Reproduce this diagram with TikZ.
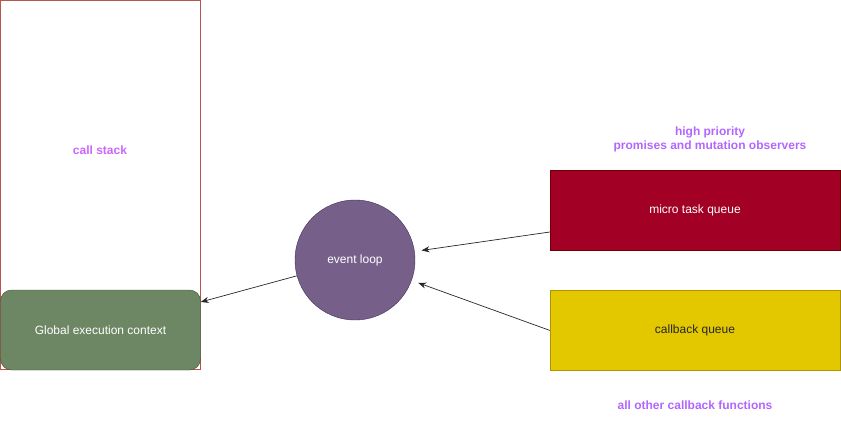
\documentclass[tikz,border=0pt]{standalone}
\usepackage{fontspec}
\setmainfont{Liberation Sans}
\usepackage{tikz}
\usepackage{xcolor}
\usetikzlibrary{positioning, arrows.meta, shapes, calc}
\definecolor{cStack}{HTML}{B85450}
\definecolor{cGlobal}{HTML}{6D8764}
\definecolor{cGlobalLine}{HTML}{3A5431}
\definecolor{cLoop}{HTML}{76608A}
\definecolor{cLoopLine}{HTML}{432D57}
\definecolor{cMicro}{HTML}{A20025}
\definecolor{cMicroLine}{HTML}{6F0000}
\definecolor{cCallback}{HTML}{E3C800}
\definecolor{cCallbackLine}{HTML}{B09500}
\definecolor{cNote}{HTML}{B266FF}
\definecolor{cStackText}{HTML}{CC66FF}
\newcommand{\twelve}{\fontsize{12}{14.5}\selectfont}

\begin{document}
\begin{tikzpicture}[
      x=1pt, y=-1pt,
      every node/.style={font=\twelve},
      box/.style={draw, minimum width=290pt, minimum height=80pt, inner sep=0pt, font=\twelve, align=center},
      microbox/.style={box, fill=cMicro, draw=cMicroLine, text=white},
      cbbox/.style={box, fill=cCallback, draw=cCallbackLine, text=black!85},
      note/.style={font=\twelve\bfseries, text=cNote, align=center},
      arrow/.style={-{Stealth[length=8pt, width=6pt]}, line width=0.7pt, black!85}
    ]
      \useasboundingbox (0,0) rectangle (841,421);

      \node[draw=cStack, line width=0.8pt, minimum width=200pt, minimum height=369pt, inner sep=0pt] (stack) at (100.5,185) {};
      \node[note, text=cStackText] (stacklbl) at (100,150) {call stack};
      \node[draw=cGlobalLine, fill=cGlobal, text=white, rounded corners=11pt, minimum width=200pt, minimum height=80pt, inner sep=0pt] (gec) at (100.5,330) {Global execution context};

      \node[circle, draw=cLoopLine, fill=cLoop, text=white, minimum size=120pt, inner sep=0pt] (loop) at (355,260) {event loop};

      \node[microbox] (micro) at (695,210) {micro task queue};
      \node[cbbox, below=40pt of micro] (cb) {callback queue};
      \node[note, above=14pt of micro, xshift=15pt] (hint) {high priority\\promises and mutation observers};
      \node[note, below=27pt of cb] (rest) {all other callback functions};

      \draw[arrow] (loop) -- ([yshift=28pt]gec.east);
      \draw[arrow, shorten >=7pt] ([yshift=-22pt]micro.west) -- (loop);
      \draw[arrow, shorten >=7pt] (cb.west) -- (loop);
    \end{tikzpicture}
\end{document}
